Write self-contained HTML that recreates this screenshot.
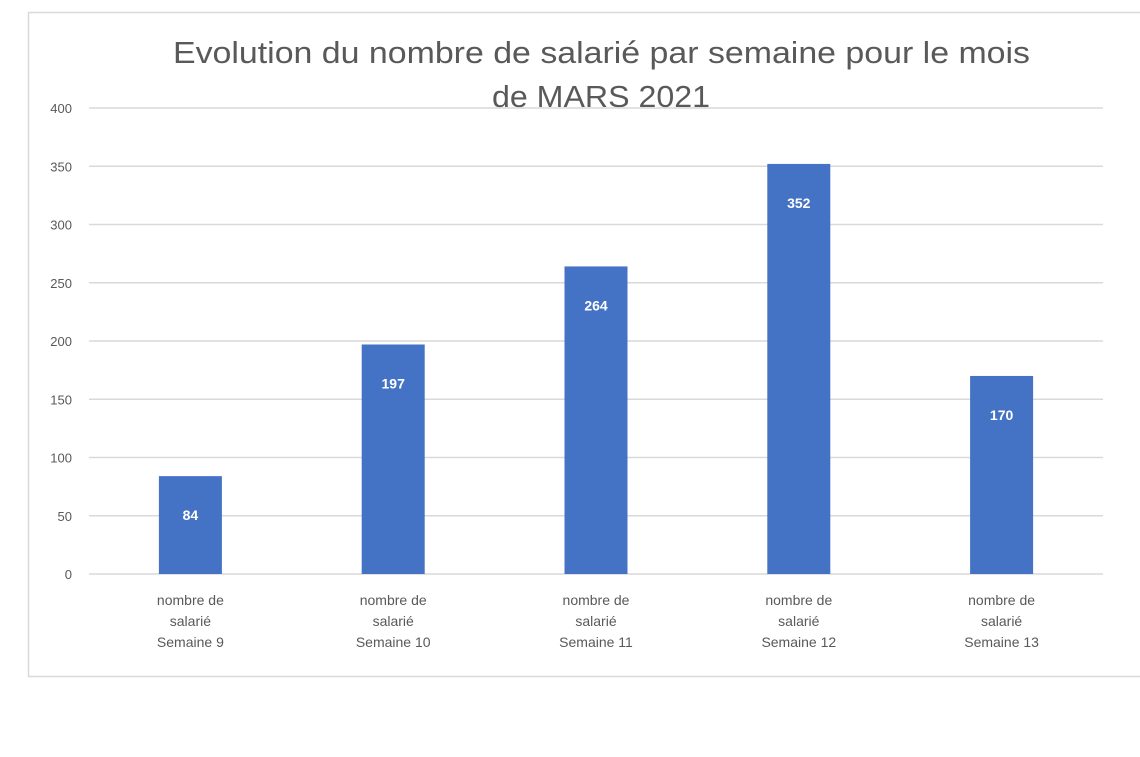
<!DOCTYPE html>
<html><head><meta charset="utf-8"><style>
body{margin:0;background:#fff;width:1140px;height:752px;overflow:hidden;font-family:"Liberation Sans",sans-serif}
</style></head><body>
<svg id="chart" width="1140" height="752" xmlns="http://www.w3.org/2000/svg">
<rect x="28.5" y="12.5" width="1120" height="664" fill="#fff" stroke="#d9d9d9" stroke-width="1.5"/>
<text x="173" y="63" textLength="857" lengthAdjust="spacingAndGlyphs" font-size="31" fill="#595959">Evolution du nombre de salarié par semaine pour le mois</text>
<text x="492" y="107" textLength="218" lengthAdjust="spacingAndGlyphs" font-size="31" fill="#595959">de MARS 2021</text>
<g id="grid"></g><g id="bars"></g><g id="labels"></g>
</svg>
<script>
const categories=["Semaine 9","Semaine 10","Semaine 11","Semaine 12","Semaine 13"];
const values=[84,197,264,352,170];
const ticks=[0,50,100,150,200,250,300,350,400];
const ns="http://www.w3.org/2000/svg";
const y0=574,y1=108,x0=89,x1=1103;
const y=v=>y0-(v/400)*(y0-y1);
const step=(x1-x0)/categories.length;
const xc=i=>x0+step*(i+0.5);
function mk(t,a,p){const e=document.createElementNS(ns,t);for(const k in a)e.setAttribute(k,a[k]);p.appendChild(e);return e;}
const g=document.getElementById('grid'),b=document.getElementById('bars'),l=document.getElementById('labels');
ticks.forEach(t=>{
 const ln=mk('line',{x1:x0,x2:x1,y1:y(t),y2:y(t),stroke:'#d9d9d9','stroke-width':1.5},g);
 
 
 const tx=mk('text',{x:72,y:y(t)+5,'text-anchor':'end','font-size':13,fill:'#595959'},g);
 tx.textContent=t;
 
 
});
categories.forEach((c,i)=>{
 const v=values[i],w=63;
 const r=mk('rect',{x:xc(i)-w/2,y:y(v),width:w,height:y0-y(v),fill:'#4472c4'},b);
 
 
 const vt=mk('text',{x:xc(i),y:y(v)+44,'text-anchor':'middle','font-size':14,'font-weight':'bold',fill:'#fff'},l);
 vt.textContent=v;
 
 
 ['nombre de','salarié',c].forEach((s,k)=>{
  const t=mk('text',{x:xc(i),y:605+k*21,'text-anchor':'middle','font-size':14,fill:'#595959'},l);
  t.textContent=s;
  
  
 });
});
</script>
</body></html>
